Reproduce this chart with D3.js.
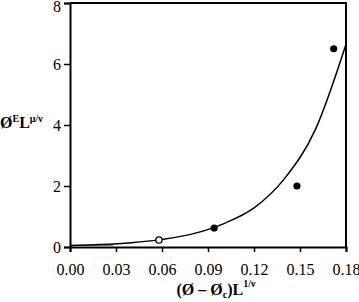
<!DOCTYPE html>
<html lang="en">
<head>
<meta charset="UTF-8">
<title>scaling</title>
<script src="https://d3js.org/d3.v7.min.js"></script>
<style>
  body { margin: 0; background: #fff; }
</style>
</head>
<body>
<script>
    var svgWidth = 359, svgHeight = 302;
    var margin = {left: 70, right: 13, top: 3, bottom: 55};
    var serif = "'Liberation Serif', 'Times New Roman', serif";

    // data
    var filledX = [0.094, 0.148, 0.172];
    var filledY = [0.62, 2.0, 6.5];
    var openX = [0.058];
    var openY = [0.23];
    var curveX = [0, 0.02, 0.04, 0.06, 0.08, 0.10, 0.12, 0.14, 0.16, 0.18];
    var curveY = [0.05, 0.08, 0.14, 0.25, 0.43, 0.76, 1.28, 2.25, 3.85, 6.65];
    var greyX = [0.003, 0.028];
    var greyY = [0.03, 0.05];
    var xTicks = [0, 0.03, 0.06, 0.09, 0.12, 0.15, 0.18];
    var yTicks = [0, 2, 4, 6, 8];

    var svg = d3.select("body").append("svg")
        .attr("width", svgWidth)
        .attr("height", svgHeight);

    var xScale = d3.scaleLinear().domain([0, 0.18])
        .range([margin.left, svgWidth - margin.right]);
    var yScale = d3.scaleLinear().domain([0, 8])
        .range([svgHeight - margin.bottom, margin.top]);

    // frame (top and right)
    svg.append("path")
        .attr("d", "M" + xScale(0) + "," + yScale(8) + "H" + xScale(0.18) + "V" + yScale(0))
        .attr("fill", "none").attr("stroke", "#000").attr("stroke-width", 2);

    var xAxis = d3.axisBottom(xScale).tickValues(xTicks)
        .tickFormat(d3.format(".2f")).tickSizeOuter(0).tickSize(5);
    var gx = svg.append("g")
        .attr("transform", "translate(0," + yScale(0) + ")")
        .call(xAxis);
    var yAxis = d3.axisLeft(yScale).tickValues(yTicks)
        .tickFormat(d3.format("d")).tickSizeOuter(0).tickSize(6);
    var gy = svg.append("g")
        .attr("transform", "translate(" + xScale(0) + ",0)")
        .call(yAxis);

    [gx, gy].forEach(function (g) {
        g.attr("font-family", null).attr("font-size", null);
        g.select(".domain").attr("stroke-width", 2);
        g.selectAll(".tick line").attr("stroke-width", 1.5);
        g.selectAll(".tick text")
            .style("font-family", serif)
            .style("font-size", "16px");
    });
    gx.selectAll(".tick text").attr("y", 0).attr("dy", "28px");
    gy.selectAll(".tick text").attr("x", -9)
        .attr("dy", function (d) { return d === 8 ? "0.5em" : "0.35em"; });

    // grey segment near origin
    svg.append("path")
        .datum(d3.zip(greyX, greyY))
        .attr("fill", "none").attr("stroke", "#888").attr("stroke-width", 2)
        .attr("d", d3.line()
            .x(function (d) { return xScale(d[0]); })
            .y(function (d) { return yScale(d[1]); }));

    // trend curve
    svg.append("path")
        .datum(d3.zip(curveX, curveY))
        .attr("fill", "none").attr("stroke", "#000").attr("stroke-width", 1.5)
        .attr("d", d3.line()
            .curve(d3.curveMonotoneX)
            .x(function (d) { return xScale(d[0]); })
            .y(function (d) { return yScale(d[1]); }));

    svg.selectAll("circle.filled")
        .data(d3.zip(filledX, filledY))
        .enter().append("circle")
        .attr("class", "filled")
        .attr("cx", function (d) { return xScale(d[0]); })
        .attr("cy", function (d) { return yScale(d[1]); })
        .attr("r", 3.6)
        .attr("fill", "#000");

    svg.selectAll("circle.open")
        .data(d3.zip(openX, openY))
        .enter().append("circle")
        .attr("class", "open")
        .attr("cx", function (d) { return xScale(d[0]); })
        .attr("cy", function (d) { return yScale(d[1]); })
        .attr("r", 3.2)
        .attr("fill", "#fff")
        .attr("stroke", "#000")
        .attr("stroke-width", 1.3);

    // x title: (Ø – Øc)L^(1/ν)
    var xt = svg.append("text")
        .attr("x", 216).attr("y", 295)
        .attr("text-anchor", "middle")
        .style("font-family", serif)
        .attr("font-weight", "bold").attr("font-size", "16px");
    xt.append("tspan").text("(Ø – Ø");
    xt.append("tspan").attr("font-size", "10px").attr("dy", 3).text("c");
    xt.append("tspan").attr("dy", -3).text(")L");
    xt.append("tspan").attr("font-size", "10px").attr("dy", -8).text("1/ν");

    // y title: Ø^E L^(μ/ν)
    var yt = svg.append("text")
        .attr("x", 0).attr("y", 128)
        .style("font-family", serif)
        .attr("font-weight", "bold").attr("font-size", "16px");
    yt.append("tspan").text("Ø");
    yt.append("tspan").attr("font-size", "10px").attr("dy", -6).text("E");
    yt.append("tspan").attr("dy", 6).text("L");
    yt.append("tspan").attr("font-size", "10px").attr("dy", -6).text("μ/ν");
</script>
</body>
</html>
